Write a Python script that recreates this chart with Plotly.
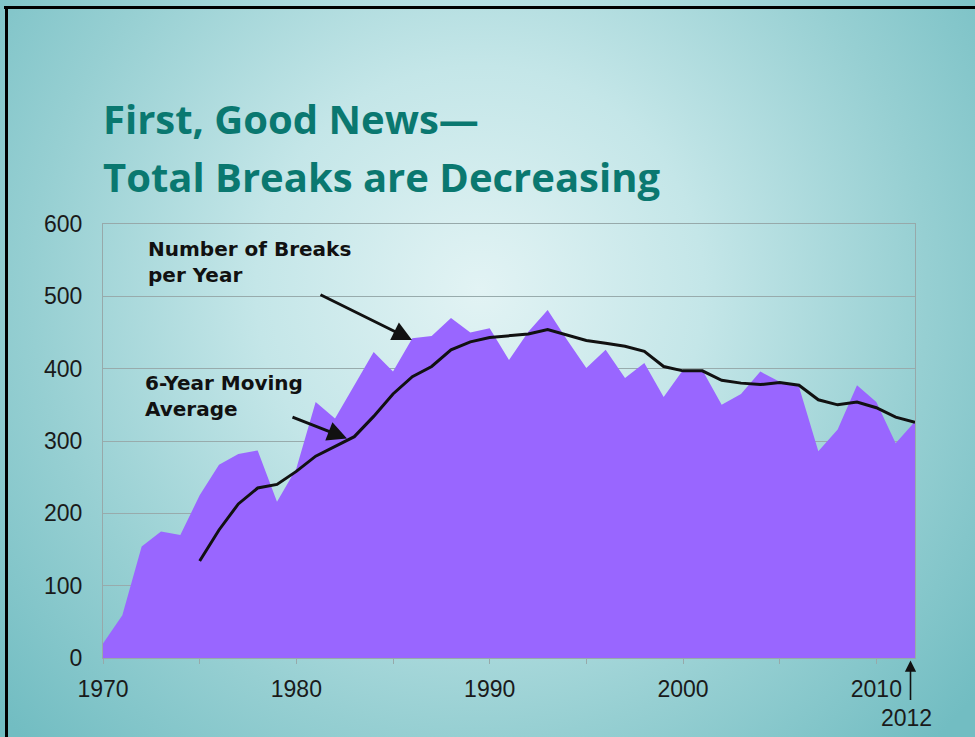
import base64
import plotly.graph_objects as go

# ---- data ----
years = list(range(1970, 2013))
breaks_per_year = [20, 59, 154, 175, 170, 225, 267, 282, 287, 216,
                   262, 354, 331, 377, 423, 396, 442, 445, 470, 450,
                   456, 412, 451, 481, 440, 401, 426, 387, 408, 361,
                   398, 398, 350, 365, 396, 382, 375, 286, 316, 377,
                   354, 297, 327]
ma_years = list(range(1975, 2013))
moving_avg_6yr = [134, 177, 213, 235, 240,
                  258, 279, 292, 306, 334, 365, 389, 403, 426, 437,
                  443, 446, 448, 454, 447, 439, 435, 431, 424, 403,
                  397, 397, 384, 380, 378, 381, 377, 357, 350, 354,
                  346, 333, 326]
x_tickvals = [1970, 1975, 1980, 1985, 1990, 1995, 2000, 2005, 2010]
x_ticktext = ["1970", "", "1980", "", "1990", "", "2000", "", "2010"]
y_tickvals = [0, 100, 200, 300, 400, 500, 600]

# ---- geometry ----
W, H = 975, 737
L, R, T, B = 103, 60, 224, 79
PW, PH = W - L - R, H - T - B


def px(xp):
    return (xp - L) / PW


def py(yp):
    return (H - B - yp) / PH


svg = f'''<svg xmlns="http://www.w3.org/2000/svg" width="{W}" height="{H}" viewBox="0 0 {W} {H}" preserveAspectRatio="none">
<defs><radialGradient id="g" gradientUnits="userSpaceOnUse" cx="480" cy="290" r="640">
<stop offset="0" stop-color="#e2f3f4"/>
<stop offset="0.35" stop-color="#c4e6e8"/>
<stop offset="0.7" stop-color="#96cfd2"/>
<stop offset="1" stop-color="#72bdc2"/>
</radialGradient></defs>
<rect x="0" y="0" width="{W}" height="{H}" fill="url(#g)"/></svg>'''
bg_src = "data:image/svg+xml;base64," + base64.b64encode(svg.encode()).decode()

fig = go.Figure()
fig.add_trace(go.Scatter(
    x=years, y=breaks_per_year, mode="lines", fill="tozeroy",
    line=dict(width=0, color="#9966ff"), fillcolor="#9966ff",
    hoverinfo="skip", showlegend=False))
fig.add_trace(go.Scatter(
    x=ma_years, y=moving_avg_6yr, mode="lines",
    line=dict(width=3, color="#111111"),
    hoverinfo="skip", showlegend=False))

tick_font = dict(family="Liberation Sans, Arial, sans-serif", size=23, color="#1a1a1a")
label_font = dict(family="DejaVu Sans, Arial, sans-serif", size=20, color="#111111")
title_font = dict(family="Open Sans, Lato, sans-serif", size=40, color="#0a7870")

annotations = [
    dict(xref="paper", yref="paper", x=px(101), y=py(118), xanchor="left", yanchor="middle",
         text="<b>First, Good News—</b>", showarrow=False, font=title_font),
    dict(xref="paper", yref="paper", x=px(101), y=py(176), xanchor="left", yanchor="middle",
         text="<b>Total Breaks are Decreasing</b>", showarrow=False, font=title_font),
    dict(xref="paper", yref="paper", x=px(146), y=py(262), xanchor="left", yanchor="middle",
         align="left", text="<b>Number of Breaks<br>per Year</b>", showarrow=False, font=label_font),
    dict(xref="paper", yref="paper", x=px(143), y=py(396), xanchor="left", yanchor="middle",
         align="left", text="<b>6-Year Moving<br>Average</b>", showarrow=False, font=label_font),
    # arrows
    dict(xref="paper", yref="paper", x=px(412), y=py(340), ax=-93, ay=-46, text="", showarrow=True,
         arrowhead=2, arrowsize=1.3, arrowwidth=3, arrowcolor="#111111"),
    dict(xref="paper", yref="paper", x=px(347), y=py(438.5), ax=-56, ay=-22, text="", showarrow=True,
         arrowhead=2, arrowsize=1.3, arrowwidth=3, arrowcolor="#111111"),
    dict(xref="paper", yref="paper", x=px(910.5), y=py(660.5), ax=0, ay=41, text="", showarrow=True,
         arrowhead=2, arrowsize=1.4, arrowwidth=1.6, arrowcolor="#111111"),
    dict(xref="paper", yref="paper", x=px(906), y=py(718), xanchor="center", yanchor="middle",
         text="2012", showarrow=False, font=tick_font),
]

shapes = [
    dict(type="line", xref="paper", yref="paper", x0=px(4), x1=px(W), y0=py(7.5), y1=py(7.5),
         line=dict(color="#000000", width=3)),
    dict(type="line", xref="paper", yref="paper", x0=px(6.5), x1=px(6.5), y0=py(6), y1=py(H),
         line=dict(color="#000000", width=3)),
]

fig.update_layout(
    width=W, height=H,
    margin=dict(l=L, r=R, t=T, b=B, pad=0),
    paper_bgcolor="#a6d7da",
    plot_bgcolor="rgba(0,0,0,0)",
    showlegend=False,
    annotations=annotations,
    shapes=shapes,
    images=[dict(source=bg_src, xref="paper", yref="paper", x=px(0), y=py(0),
                 sizex=W / PW, sizey=H / PH, xanchor="left", yanchor="top",
                 sizing="stretch", layer="below", opacity=1)],
    xaxis=dict(range=[1970, 2012], tickvals=x_tickvals, ticktext=x_ticktext,
               showgrid=False, zeroline=False, showline=True, mirror=True,
               linecolor="#97a9aa", linewidth=1, ticks="outside", ticklen=5,
               tickcolor="#97a9aa", tickfont=tick_font, ticklabelstandoff=5),
    yaxis=dict(range=[0, 600], tickvals=y_tickvals, showgrid=True, gridcolor="#98abac",
               gridwidth=1, zeroline=False, showline=True, mirror=True,
               linecolor="#97a9aa", linewidth=1, ticks="", tickfont=tick_font,
               ticklabelstandoff=15),
)

fig.write_html("out.html")
